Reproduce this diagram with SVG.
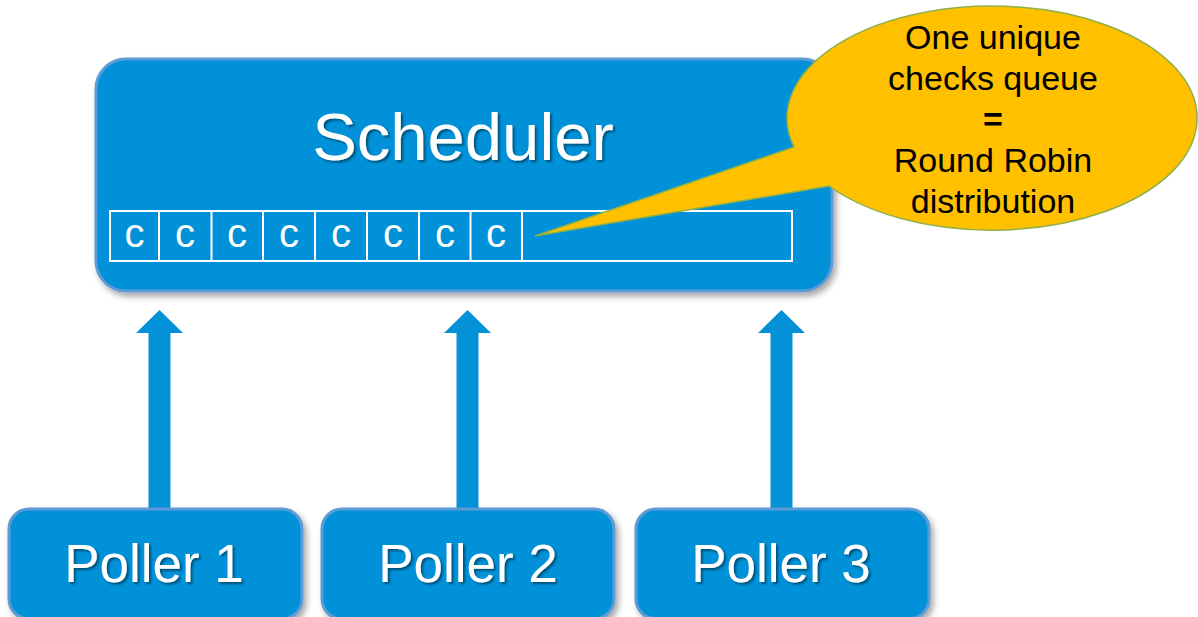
<svg xmlns="http://www.w3.org/2000/svg" width="1198" height="617" viewBox="0 0 1198 617">
  <defs>
    <filter id="shadow" x="-10%" y="-10%" width="125%" height="130%">
      <feDropShadow dx="3" dy="4" stdDeviation="3" flood-color="#000" flood-opacity="0.35"/>
    </filter>
    <filter id="tshadow" x="-10%" y="-10%" width="120%" height="130%">
      <feDropShadow dx="2" dy="2" stdDeviation="1.2" flood-color="#000" flood-opacity="0.45"/>
    </filter>
  </defs>
  <style>
    .box { fill: #0591D8; stroke: #5B9BD5; stroke-width: 3; }
    .cell { fill: none; stroke: #FFFFFF; stroke-width: 2; }
    .arrow { fill: #0591D8; }
    .big { font-family: "Liberation Sans", Arial, sans-serif; fill: #FFFFFF; text-anchor: middle; }
    .c { font-family: "Liberation Sans", Arial, sans-serif; fill: #FFFFFF; font-size: 40px; text-anchor: middle; }
    .note { font-family: "Liberation Sans", Arial, sans-serif; fill: #000000; font-size: 34px; text-anchor: middle; }
  </style>
  <rect width="1198" height="617" fill="#FFFFFF"/>

  <g id="scheduler">
    <rect class="box" x="96" y="59" width="736" height="232" rx="30" ry="30" filter="url(#shadow)"/>
    <text class="big" x="463" y="160" font-size="67" filter="url(#tshadow)">Scheduler</text>
    <g id="queue">
      <rect class="cell" x="110" y="211" width="682" height="50"/>
      <line class="cell" x1="159" y1="211" x2="159" y2="261"/>
      <line class="cell" x1="211.5" y1="211" x2="211.5" y2="261"/>
      <line class="cell" x1="263" y1="211" x2="263" y2="261"/>
      <line class="cell" x1="315" y1="211" x2="315" y2="261"/>
      <line class="cell" x1="367" y1="211" x2="367" y2="261"/>
      <line class="cell" x1="419" y1="211" x2="419" y2="261"/>
      <line class="cell" x1="470.5" y1="211" x2="470.5" y2="261"/>
      <line class="cell" x1="522" y1="211" x2="522" y2="261"/>
      <text class="c" x="134.5" y="247">c</text>
      <text class="c" x="185" y="247">c</text>
      <text class="c" x="237" y="247">c</text>
      <text class="c" x="289" y="247">c</text>
      <text class="c" x="341" y="247">c</text>
      <text class="c" x="393" y="247">c</text>
      <text class="c" x="445" y="247">c</text>
      <text class="c" x="496" y="247">c</text>
    </g>
  </g>

  <g id="callout">
    <path d="M 794 147 L 535 236 L 829 186 A 205 112 0 1 0 794 147 Z" fill="#FFC000" stroke="#8FB04A" stroke-width="1.5"/>
    <text class="note" x="993" y="49">One unique</text>
    <text class="note" x="993" y="90">checks queue</text>
    <text class="note" x="993" y="131" font-weight="bold">=</text>
    <text class="note" x="993" y="172">Round Robin</text>
    <text class="note" x="993" y="213">distribution</text>
  </g>

  <g id="connectors">
    <path class="arrow" d="M 148.5 508 L 148.5 333 L 136 333 L 159.5 310 L 183 333 L 170.5 333 L 170.5 508 Z"/>
    <path class="arrow" d="M 456.5 508 L 456.5 333 L 444 333 L 467.5 310 L 491 333 L 478.5 333 L 478.5 508 Z"/>
    <path class="arrow" d="M 770.5 508 L 770.5 333 L 758 333 L 781.5 310 L 805 333 L 792.5 333 L 792.5 508 Z"/>
  </g>

  <g id="poller1">
    <rect class="box" x="9" y="509" width="293" height="110" rx="20" ry="20" filter="url(#shadow)"/>
    <text class="big" x="154" y="582" font-size="53" filter="url(#tshadow)">Poller 1</text>
  </g>
  <g id="poller2">
    <rect class="box" x="322" y="509" width="292" height="110" rx="20" ry="20" filter="url(#shadow)"/>
    <text class="big" x="468" y="582" font-size="53" filter="url(#tshadow)">Poller 2</text>
  </g>
  <g id="poller3">
    <rect class="box" x="636" y="509" width="293" height="110" rx="20" ry="20" filter="url(#shadow)"/>
    <text class="big" x="781" y="582" font-size="53" filter="url(#tshadow)">Poller 3</text>
  </g>
</svg>
